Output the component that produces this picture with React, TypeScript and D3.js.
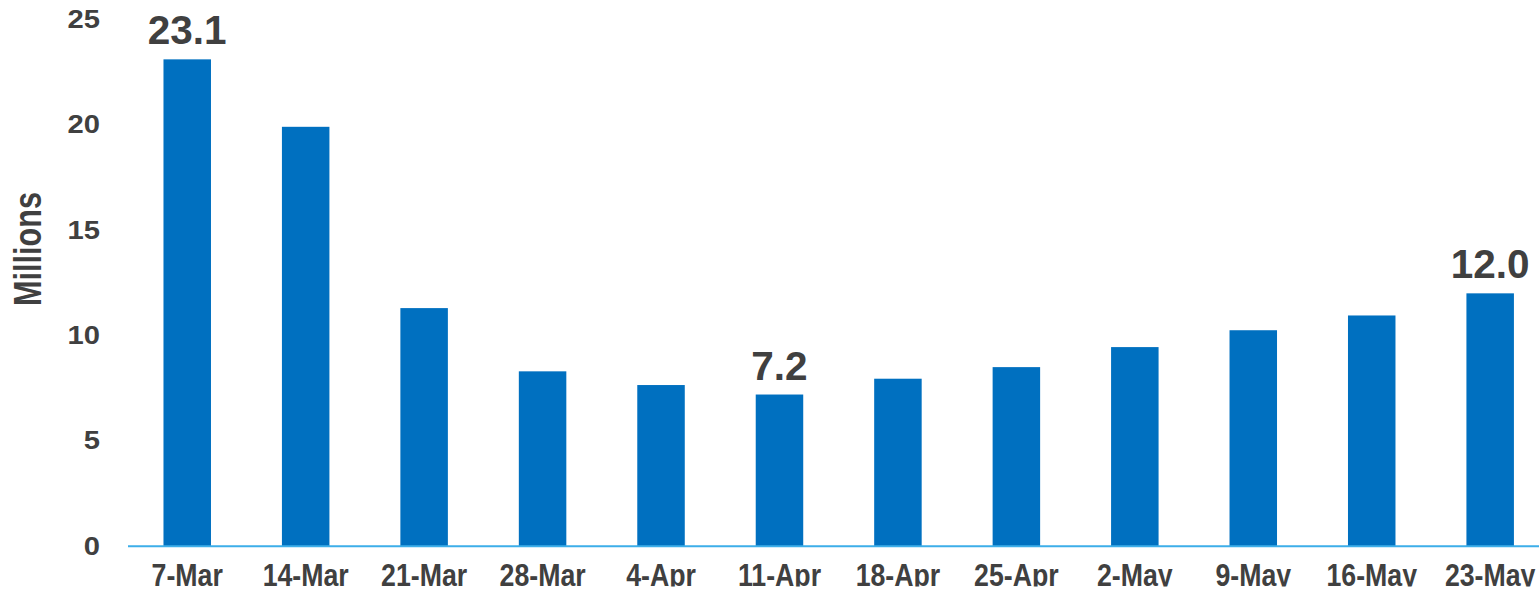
import React from "react";
import * as d3 from "d3";

const categories = ["7-Mar", "14-Mar", "21-Mar", "28-Mar", "4-Apr", "11-Apr", "18-Apr", "25-Apr", "2-May", "9-May", "16-May", "23-May"];
const values = [23.1, 19.9, 11.3, 8.3, 7.65, 7.2, 7.95, 8.5, 9.45, 10.25, 10.95, 12.0];
const labelled = ["7-Mar", "11-Apr", "23-May"];
const yTicks = [0, 5, 10, 15, 20, 25];

const W = 1539;
const H = 591;
const FONT = "'Liberation Sans', Arial, sans-serif";
const TEXT = "#404040";

export default function App() {
  const x = d3.scaleBand<string>().domain(categories).range([128, 128 + 12 * 118.45]).paddingInner(0.6).paddingOuter(0.3);
  const y = d3.scaleLinear().domain([0, 25]).range([546.3, 19.3]);
  const bw = 47.5;
  return (
    <svg width={W} height={H} style={{ position: "fixed", left: 0, top: 0, background: "#fff" }}>
      <defs>
        <clipPath id="xclip">
          <rect x={0} y={0} width={W} height={586.5} />
        </clipPath>
      </defs>
      {yTicks.map((t) => (
        <text key={t} transform={`translate(100,${y(t) - 1}) scale(1.1,1)`} dy="0.36em" textAnchor="end" fontFamily={FONT} fontWeight="bold" fontSize={26.5} fill={TEXT}>
          {t}
        </text>
      ))}
      <text transform={`translate(40.7,249) rotate(-90) scale(1,1.25)`} textAnchor="middle" fontFamily={FONT} fontWeight="bold" fontSize={30.6} fill={TEXT}>
        Millions
      </text>
      <g clipPath="url(#xclip)">
        {categories.map((c) => {
          const cx = (x(c) as number) + x.bandwidth() / 2;
          return (
            <text key={c} transform={`translate(${cx},586) scale(0.87,1)`} textAnchor="middle" fontFamily={FONT} fontWeight="bold" fontSize={30.7} fill={TEXT}>
              {c}
            </text>
          );
        })}
      </g>
      {categories.map((c, i) => {
        const cx = (x(c) as number) + x.bandwidth() / 2;
        return (
          <g key={c}>
            <rect x={cx - bw / 2} y={y(values[i])} width={bw} height={y(0) - y(values[i])} fill="#0070C0" />
            {labelled.includes(c) && (
              <text x={cx} y={y(values[i]) - 15} textAnchor="middle" fontFamily={FONT} fontWeight="bold" fontSize={40.5} fill={TEXT}>
                {values[i].toFixed(1)}
              </text>
            )}
          </g>
        );
      })}
      <line x1={128} x2={W} y1={y(0)} y2={y(0)} stroke="#3DAEE9" strokeWidth={2} />
    </svg>
  );
}
